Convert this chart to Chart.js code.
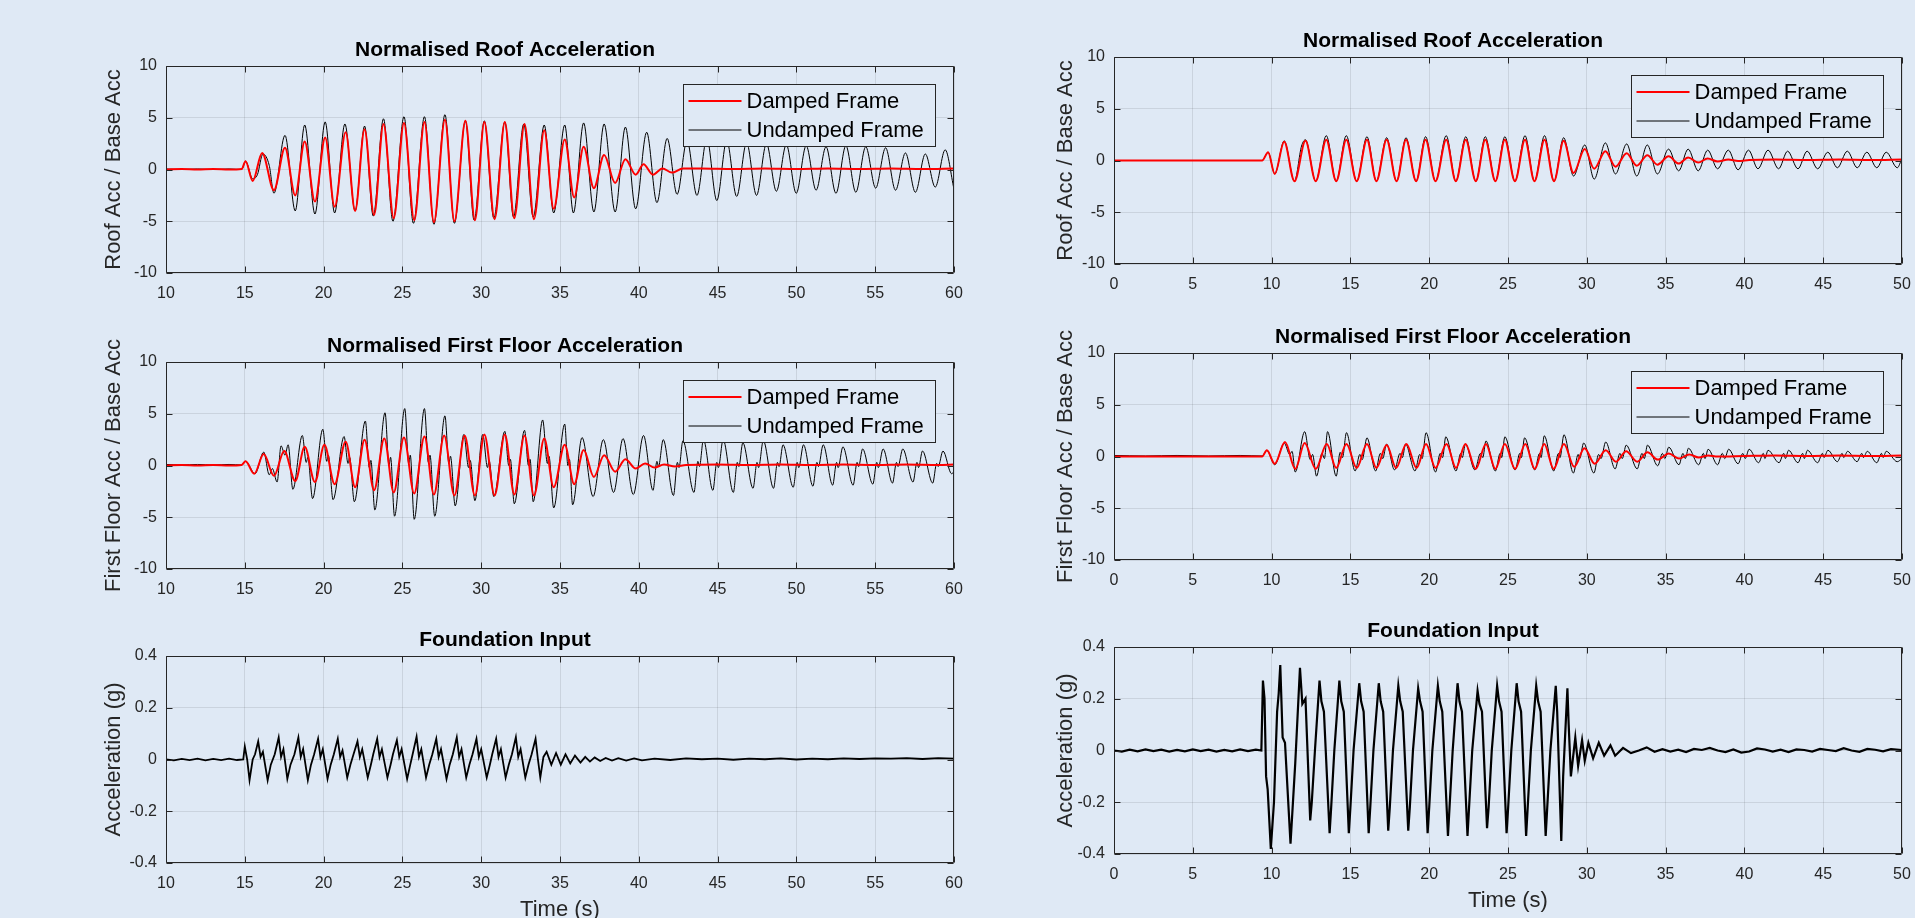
<!DOCTYPE html>
<html>
<head>
<meta charset="utf-8">
<title>Frame accelerations</title>
<script src="https://cdn.jsdelivr.net/npm/chart.js@4.4.1/dist/chart.umd.min.js"></script>
<style>
  html, body { margin: 0; padding: 0; background: #dfe9f5; overflow: hidden; width: 1915px; height: 918px; }
  canvas { position: absolute; }
</style>
</head>
<body>
<canvas id="roofA"></canvas>
<canvas id="floorA"></canvas>
<canvas id="footA"></canvas>
<canvas id="roofB"></canvas>
<canvas id="floorB"></canvas>
<canvas id="footB"></canvas>
<script>
// ---- tick labels ----
const ticksA = [10, 15, 20, 25, 30, 35, 40, 45, 50, 55, 60];
const ticksB = [0, 5, 10, 15, 20, 25, 30, 35, 40, 45, 50];
const accTicks = [-10, -5, 0, 5, 10];
const gTicks = [-0.4, -0.2, 0, 0.2, 0.4];

const roofDampedA = [[10,0],[11,0.05],[12,0],[13,0.05],[14,0],[14.8,0.05],[15.05,0.8],[15.5,-1.1],[16.1,1.6],[16.85,-2.0],[17.55,2.1],[18.2,-2.5],[18.8,2.7],[19.45,-3.1],[20.1,3.1],[20.7,-3.6],[21.4,3.6],[22.0,-4.0],[22.6,3.9],[23.2,-4.4],[23.8,4.4],[24.45,-4.7],[25.1,4.5],[25.75,-4.9],[26.4,4.6],[27.0,-5.1],[27.7,4.8],[28.3,-5.0],[29.0,4.7],[29.6,-4.9],[30.2,4.6],[30.85,-4.8],[31.5,4.6],[32.1,-4.7],[32.75,4.4],[33.35,-4.8],[34.0,3.8],[34.6,-3.8],[35.3,2.9],[35.9,-2.7],[36.5,2.2],[37.15,-1.8],[37.8,1.4],[38.5,-1.3],[39.15,1.0],[39.8,-0.5],[40.3,0.5],[40.9,-0.5],[41.5,0.1],[42.1,-0.3],[42.8,0.1],[44,0.1],[46,0.05],[48,0.1],[50,0.05],[52,0.1],[54,0.05],[56,0.1],[58,0.05],[60,0.1]];
const roofUndampedA = [[10,0.05],[11,0],[12,0.05],[13,0],[14,0.05],[14.8,0],[15.05,0.8],[15.5,-0.9],[15.8,-0.5],[16.15,1.5],[16.55,0.4],[16.85,-2.3],[17.55,3.3],[18.2,-4.0],[18.8,4.3],[19.45,-4.3],[20.1,4.6],[20.7,-4.2],[21.35,4.4],[22.0,-4.0],[22.6,4.2],[23.15,-4.5],[23.8,4.9],[24.4,-5.0],[25.1,5.1],[25.7,-5.2],[26.4,5.1],[27.0,-5.3],[27.7,5.3],[28.3,-5.2],[29.0,4.7],[29.55,-4.9],[30.2,4.7],[30.8,-4.7],[31.5,4.6],[32.05,-4.6],[32.7,4.4],[33.3,-4.6],[34.0,4.3],[34.6,-4.2],[35.3,4.3],[35.85,-4.2],[36.5,4.5],[37.15,-4.1],[37.8,4.4],[38.5,-4.1],[39.15,4.1],[39.8,-3.8],[40.5,3.6],[41.15,-3.2],[41.8,3.0],[42.43,-2.4],[43.06,2.8],[43.69,-2.5],[44.32,3.0],[44.95,-3.0],[45.58,2.8],[46.21,-2.6],[46.84,2.6],[47.47,-2.5],[48.1,2.5],[48.73,-2.1],[49.36,2.4],[49.99,-2.3],[50.62,2.3],[51.25,-2.0],[51.88,2.2],[52.51,-2.3],[53.14,2.3],[53.77,-2.2],[54.4,2.2],[55.03,-1.8],[55.66,2.1],[56.29,-2.0],[56.92,1.6],[57.55,-2.2],[58.18,1.5],[58.81,-1.7],[59.44,1.9],[60,-1.9]];

const floorDampedA = [[10,0],[11,0.05],[12,0],[13,0.05],[14,0],[14.8,0.05],[15.05,0.4],[15.6,-0.8],[16.2,1.1],[16.85,-1.0],[17.5,1.4],[18.2,-1.5],[18.8,1.8],[19.45,-1.6],[20.05,2.0],[20.7,-1.8],[21.4,2.3],[22.0,-2.1],[22.6,2.5],[23.2,-2.4],[23.85,2.6],[24.45,-2.6],[25.1,2.7],[25.75,-2.7],[26.4,2.8],[27.0,-2.8],[27.65,2.9],[28.3,-2.9],[28.95,2.9],[29.6,-2.9],[30.2,3.0],[30.85,-2.9],[31.5,3.0],[32.1,-2.8],[32.75,2.9],[33.35,-2.9],[34.0,2.6],[34.6,-2.1],[35.3,2.0],[35.9,-1.8],[36.5,1.5],[37.15,-1.1],[37.8,1.0],[38.5,-0.6],[39.15,0.6],[39.8,-0.3],[40.4,0.2],[41.0,-0.2],[41.6,0.1],[42.3,-0.1],[43,0.05],[45,0.1],[47,0.05],[49,0.1],[51,0.05],[53,0.1],[55,0.05],[57,0.1],[59,0.05],[60,0.1]];
const floorUndampedA = [[10,0.1],[11,0.05],[12,0.1],[13,0.05],[14,0.1],[14.8,0.05],[15.05,0.4],[15.65,-0.8],[16.2,1.3],[16.55,-0.9],[16.75,-0.3],[17.05,-1.6],[17.3,1.9],[17.55,1.0],[17.75,2.0],[18.05,-2.3],[18.65,2.9],[18.9,0.3],[19.0,0.8],[19.3,-3.2],[19.95,3.5],[20.2,0.4],[20.3,1.0],[20.6,-3.3],[21.3,2.8],[21.55,0.2],[21.65,0.8],[21.95,-3.5],[22.65,4.3],[22.9,-0.2],[23.0,0.5],[23.25,-4.3],[23.9,5.1],[24.15,0.0],[24.25,0.8],[24.5,-4.9],[25.15,5.5],[25.4,0.2],[25.5,1.0],[25.75,-5.2],[26.4,5.5],[26.65,0.3],[26.75,1.0],[27.05,-4.9],[27.7,4.8],[27.95,0.2],[28.05,0.9],[28.35,-3.9],[28.9,3.0],[29.2,-0.2],[29.3,0.5],[29.6,-3.4],[30.1,3.0],[30.4,-0.2],[30.5,0.5],[30.8,-3.0],[31.5,3.3],[31.75,0.0],[31.85,0.6],[32.1,-3.7],[32.75,3.4],[33.0,0.0],[33.1,0.6],[33.3,-3.5],[33.9,4.4],[34.2,0.2],[34.3,0.9],[34.6,-4.1],[35.3,4.0],[35.5,0.0],[35.6,0.6],[35.8,-3.8],[36.4,2.7],[37.1,-3.0],[37.75,2.5],[38.4,-2.6],[39.0,2.6],[39.65,-2.8],[40.3,2.9],[40.9,-2.4],[41.15,0.4],[41.25,-0.1],[41.55,2.5],[42.2,-2.9],[42.45,0.3],[42.55,-0.2],[42.8,2.4],[43.5,-2.6],[43.75,0.4],[43.85,-0.1],[44.1,2.5],[44.7,-2.4],[44.95,0.3],[45.05,-0.2],[45.35,2.5],[46.0,-2.6],[46.25,0.3],[46.35,-0.1],[46.6,2.2],[47.25,-2.2],[47.5,0.3],[47.6,-0.2],[47.9,2.4],[48.55,-2.2],[48.8,0.3],[48.9,-0.1],[49.15,2.0],[49.8,-2.1],[50.05,0.3],[50.15,-0.2],[50.45,2.0],[51.05,-2.0],[51.3,0.3],[51.4,-0.1],[51.7,2.0],[52.3,-1.9],[52.55,0.3],[52.65,-0.2],[52.95,1.8],[53.6,-1.9],[53.85,0.3],[53.95,-0.1],[54.2,1.6],[54.85,-1.8],[55.1,0.3],[55.2,-0.2],[55.5,1.6],[56.1,-1.7],[56.35,0.3],[56.45,-0.1],[56.75,1.6],[57.4,-1.6],[57.65,0.3],[57.75,-0.2],[58.0,1.4],[58.65,-1.7],[58.9,0.2],[59.0,-0.1],[59.3,1.4],[59.85,-0.8],[60,-0.6]];

const footInputA = [[10,0],[10.5,-0.003],[11,0.002],[11.5,-0.002],[12,0.003],[12.5,-0.003],[13,0.002],[13.5,-0.002],[14,0.003],[14.5,-0.002],[14.9,0.0],
  [15.0,0.05],[15.15,0.0],[15.3,-0.08],[15.5,0.0],[15.65,0.02],[15.85,0.07],[16.0,0.01],[16.15,0.03],[16.45,-0.08],[16.65,-0.02],[16.9,0.02],[17.15,0.085],[17.3,0.01],[17.45,0.04],[17.7,-0.075],[17.9,-0.02],[18.15,0.02],[18.4,0.085],[18.55,0.01],[18.7,0.04],[19.0,-0.08],[19.2,-0.02],[19.4,0.02],[19.65,0.08],[19.8,0.01],[19.95,0.04],[20.25,-0.075],[20.45,-0.02],[20.65,0.02],[20.9,0.08],[21.05,0.01],[21.2,0.035],[21.5,-0.07],[21.7,-0.02],[21.9,0.02],[22.15,0.07],[22.3,0.01],[22.45,0.04],[22.8,-0.07],[23.0,-0.02],[23.15,0.02],[23.4,0.08],[23.55,0.01],[23.7,0.04],[24.05,-0.07],[24.25,-0.02],[24.4,0.02],[24.65,0.075],[24.8,0.01],[24.95,0.04],[25.3,-0.075],[25.5,-0.02],[25.65,0.02],[25.9,0.088],[26.05,0.01],[26.2,0.04],[26.5,-0.07],[26.7,-0.02],[26.9,0.02],[27.15,0.08],[27.3,0.01],[27.45,0.04],[27.8,-0.075],[28.0,-0.02],[28.2,0.02],[28.45,0.085],[28.6,0.01],[28.75,0.04],[29.05,-0.07],[29.25,-0.02],[29.45,0.02],[29.7,0.08],[29.85,0.01],[30.0,0.04],[30.35,-0.07],[30.55,-0.02],[30.7,0.02],[30.95,0.08],[31.1,0.01],[31.25,0.04],[31.55,-0.07],[31.75,-0.02],[31.95,0.02],[32.2,0.086],[32.35,0.01],[32.5,0.04],[32.8,-0.07],[33.0,-0.02],[33.2,0.02],[33.45,0.08],[33.6,0.0],[33.75,-0.07],
  [33.95,0.01],[34.15,0.03],[34.45,-0.02],[34.75,0.025],[35.05,-0.02],[35.35,0.02],[35.65,-0.015],[35.95,0.015],[36.3,-0.012],[36.6,0.01],[36.9,-0.008],[37.2,0.008],[37.55,-0.006],[37.9,0.006],[38.3,-0.004],[38.7,0.005],[39.2,-0.004],[39.7,0.004],[40.2,-0.003],[41,0.003],[42,-0.002],[43,0.004],[44,0.001],[45,0.003],[46,-0.001],[47,0.003],[48,0.001],[49,0.004],[50,0.0],[51,0.003],[52,0.001],[53,0.004],[54,0.002],[55,0.004],[56,0.003],[57,0.005],[58,0.002],[59,0.005],[60,0.003]];

// ---- right column (test B) ----
const roofDampedB = [[0,0],[9.4,0],[9.78,0.8],[10.2,-1.3],[10.8,1.8],[11.45,-2.0],[12.15,1.9],[12.8,-2.0],[13.47,2.0],[14.1,-2.0],[14.74,2.0],[15.4,-2.0],[16.05,2.0],[16.65,-2.0],[17.3,2.0],[17.93,-2.0],[18.53,2.0],[19.17,-2.0],[19.77,2.0],[20.4,-2.0],[21.08,2.0],[21.69,-2.0],[22.32,2.0],[22.96,-2.0],[23.56,2.0],[24.2,-2.0],[24.8,2.0],[25.44,-2.0],[26.08,2.0],[26.68,-2.0],[27.32,2.0],[27.92,-2.0],[28.53,1.9],[29.16,-1.2],[29.87,1.1],[30.47,-0.8],[31.18,0.9],[31.82,-0.6],[32.53,0.7],[33.17,-0.5],[33.84,0.5],[34.48,-0.4],[35.19,0.4],[35.83,-0.3],[36.43,0.3],[37.07,-0.2],[37.67,0.2],[38.3,-0.1],[38.98,0.1],[39.6,-0.05],[40.3,0.05],[42,0.1],[44,0.05],[46,0.1],[48,0.05],[50,0.1]];
const roofUndampedB = [[0,0],[9.4,0],[9.78,0.8],[10.2,-1.3],[10.8,1.9],[11.45,-2.0],[11.9,1.4],[12.15,2.0],[12.8,-2.0],[13.47,2.4],[14.1,-2.0],[14.74,2.4],[15.4,-2.0],[16.05,2.3],[16.65,-2.0],[17.3,2.2],[17.93,-2.0],[18.53,2.2],[19.17,-2.0],[19.77,2.3],[20.4,-2.0],[21.08,2.4],[21.69,-2.0],[22.32,2.3],[22.96,-2.0],[23.56,2.3],[24.2,-2.0],[24.8,2.3],[25.44,-2.0],[26.08,2.4],[26.68,-2.0],[27.32,2.4],[27.92,-2.0],[28.53,2.2],[29.16,-1.5],[29.87,1.5],[30.47,-1.8],[31.18,1.7],[31.82,-1.3],[32.53,1.6],[33.17,-1.5],[33.84,1.5],[34.48,-1.3],[35.19,1.1],[35.83,-1.0],[36.43,1.1],[37.07,-1.0],[37.67,1.0],[38.3,-0.8],[38.98,1.0],[39.6,-0.9],[40.26,1.0],[40.86,-0.8],[41.5,1.0],[42.17,-0.8],[42.74,0.9],[43.4,-0.8],[43.98,0.9],[44.65,-0.8],[45.29,0.8],[45.9,-0.7],[46.53,0.9],[47.16,-0.7],[47.77,0.8],[48.4,-0.7],[49.0,0.8],[49.7,-0.7],[50,0.2]];

const floorDampedB = [[0,0],[9.4,0],[9.7,0.6],[10.2,-0.7],[10.85,1.4],[11.5,-1.2],[12.1,1.3],[12.8,-1.2],[13.5,1.2],[14.1,-1.1],[14.75,1.2],[15.4,-1.1],[16.05,1.2],[16.65,-1.1],[17.3,1.1],[17.9,-1.1],[18.55,1.2],[19.2,-1.1],[19.8,1.2],[20.4,-1.1],[21.1,1.2],[21.7,-1.1],[22.3,1.2],[22.95,-1.2],[23.6,1.2],[24.2,-1.2],[24.8,1.2],[25.45,-1.2],[26.1,1.2],[26.7,-1.2],[27.3,1.2],[27.9,-1.2],[28.55,1.2],[29.2,-1.0],[29.85,0.8],[30.5,-0.7],[31.2,0.6],[31.85,-0.5],[32.5,0.5],[33.2,-0.5],[33.85,0.4],[34.5,-0.3],[35.2,0.3],[35.85,-0.2],[36.5,0.2],[37.1,-0.1],[37.7,0.1],[38.3,0],[40,0.05],[42,0.1],[44,0.05],[46,0.1],[48,0.05],[50,0.1]];
const floorUndampedB = [[0,0.1],[2,0.05],[4,0.1],[6,0.05],[8,0.1],[9.4,0.05],[9.7,0.6],[10.2,-0.8],[10.8,1.3],[11.15,0.2],[11.3,0.5],[11.5,-1.5],[12.1,2.4],[12.45,-0.3],[12.6,0.2],[12.85,-1.9],[13.2,0.3],[13.35,-0.2],[13.55,2.4],[14.1,-1.9],[14.35,0.4],[14.5,-0.1],[14.75,2.3],[15.3,-1.4],[15.6,0.2],[15.75,-0.3],[16.05,1.8],[16.6,-1.4],[16.9,0.3],[17.05,-0.2],[17.3,1.2],[17.8,-1.3],[18.15,0.3],[18.3,-0.1],[18.5,1.2],[19.1,-1.4],[19.4,0.2],[19.55,-0.2],[19.8,2.3],[20.4,-1.5],[20.7,0.3],[20.85,-0.1],[21.05,1.9],[21.7,-1.4],[22.0,0.3],[22.1,-0.1],[22.3,1.2],[22.9,-1.3],[23.25,0.3],[23.4,-0.1],[23.6,1.5],[24.2,-1.4],[24.5,0.3],[24.6,-0.1],[24.8,1.9],[25.45,-1.3],[25.75,0.3],[25.85,-0.1],[26.05,1.8],[26.7,-1.3],[27.0,0.3],[27.1,-0.1],[27.3,2.0],[27.9,-1.4],[28.2,0.3],[28.3,-0.1],[28.55,2.1],[29.15,-1.6],[29.45,0.2],[29.55,-0.2],[29.8,1.3],[30.45,-1.6],[30.75,0.2],[30.9,-0.2],[31.2,1.4],[31.8,-1.2],[32.1,0.3],[32.25,-0.2],[32.5,1.1],[33.2,-1.2],[33.5,0.3],[33.65,-0.2],[33.85,1.1],[34.5,-0.9],[34.8,0.3],[34.95,-0.2],[35.2,0.9],[35.85,-0.8],[36.1,0.3],[36.25,-0.2],[36.45,0.8],[37.1,-0.8],[37.4,0.3],[37.5,-0.2],[37.7,0.7],[38.3,-0.8],[38.6,0.3],[38.75,-0.2],[39.0,0.7],[39.6,-0.7],[39.9,0.3],[40.05,-0.2],[40.3,0.7],[40.9,-0.6],[41.2,0.3],[41.3,-0.2],[41.5,0.6],[42.2,-0.6],[42.5,0.3],[42.6,-0.2],[42.8,0.6],[43.4,-0.6],[43.7,0.3],[43.8,-0.2],[44.0,0.6],[44.65,-0.6],[44.95,0.3],[45.05,-0.1],[45.3,0.6],[45.9,-0.5],[46.2,0.3],[46.3,-0.1],[46.55,0.5],[47.15,-0.5],[47.45,0.3],[47.55,-0.1],[47.8,0.5],[48.4,-0.6],[48.7,0.3],[48.8,-0.1],[49.0,0.5],[49.7,-0.5],[50,-0.2]];

const footInputB = [[0,0],[0.5,-0.004],[1,0.003],[1.5,-0.003],[2,0.004],[2.5,-0.002],[3,0.003],[3.5,-0.004],[4,0.002],[4.5,-0.003],[5,0.004],[5.5,-0.002],[6,0.003],[6.5,-0.004],[7,0.002],[7.5,-0.003],[8,0.004],[8.5,-0.002],[9,0.003],[9.35,0.0],
  [9.45,0.27],[9.55,0.2],[9.65,-0.1],[9.75,-0.15],[9.95,-0.38],[10.15,-0.2],[10.35,0.15],[10.45,0.22],[10.55,0.33],[10.7,0.05],[10.85,0.03],[11.2,-0.36],[11.5,-0.05],[11.8,0.32],[11.95,0.18],[12.15,0.2],[12.45,-0.27],[12.55,-0.2],[12.75,0.0],
  [13.04,0.27],[13.16,0.19],[13.32,0.15],[13.68,-0.32],[13.78,-0.22],[13.98,0.0],
  [14.3,0.27],[14.42,0.19],[14.58,0.15],[14.9,-0.32],[15.0,-0.22],[15.2,0.0],
  [15.56,0.26],[15.68,0.19],[15.84,0.15],[16.16,-0.32],[16.26,-0.22],[16.46,0.0],
  [16.8,0.26],[16.92,0.19],[17.08,0.15],[17.4,-0.31],[17.5,-0.22],[17.7,0.0],
  [18.04,0.25],[18.16,0.19],[18.32,0.15],[18.67,-0.31],[18.77,-0.22],[18.97,0.0],
  [19.3,0.24],[19.42,0.19],[19.58,0.15],[19.9,-0.32],[20.0,-0.22],[20.2,0.0],
  [20.55,0.25],[20.67,0.19],[20.83,0.15],[21.19,-0.33],[21.29,-0.22],[21.49,0.0],
  [21.8,0.26],[21.92,0.19],[22.08,0.15],[22.43,-0.33],[22.53,-0.22],[22.73,0.0],
  [23.07,0.23],[23.19,0.18],[23.35,0.15],[23.67,-0.30],[23.77,-0.22],[23.97,0.0],
  [24.31,0.25],[24.43,0.19],[24.59,0.15],[24.91,-0.32],[25.01,-0.22],[25.21,0.0],
  [25.55,0.26],[25.67,0.19],[25.83,0.15],[26.15,-0.33],[26.25,-0.22],[26.45,0.0],
  [26.79,0.25],[26.91,0.19],[27.07,0.15],[27.39,-0.33],[27.49,-0.22],[27.69,0.0],
  [28.03,0.25],[28.12,0.15],[28.38,-0.35],[28.5,-0.1],[28.77,0.24],[28.85,0.1],
  [28.99,-0.1],[29.27,0.05],[29.45,-0.06],[29.7,0.04],[29.87,-0.04],[30.1,0.03],[30.4,-0.03],[30.76,0.03],[31.1,-0.02],[31.5,0.02],[31.8,-0.02],
  [32.3,0.01],[32.8,-0.01],[33.3,0.0],[33.8,0.012],[34.3,-0.005],[34.8,0.005],[35.3,-0.004],[35.8,0.003],[36.3,-0.006],[36.8,0.006],[37.3,0.002],[37.8,0.01],[38.3,0.0],[38.8,-0.006],[39.3,0.004],[39.8,-0.008],[40.3,-0.004],[40.8,0.008],[41.3,0.004],[41.8,-0.004],[42.3,0.003],[42.8,-0.006],[43.3,0.004],[43.8,0.002],[44.3,-0.004],[44.8,0.006],[45.3,0.002],[45.8,-0.002],[46.3,0.009],[46.8,0.0],[47.3,-0.005],[47.8,0.006],[48.3,0.003],[48.8,-0.003],[49.3,0.005],[50,0.002]];

// ---- look ----
const BG = '#dfe9f5';
const AXIS = '#262626';
const FONT = "'Liberation Sans', Arial, Helvetica, sans-serif";
Chart.defaults.font.family = FONT;
Chart.defaults.color = AXIS;

const PLOT_W = 788, PLOT_H = 207, Y_W = 110, TITLE_H = 40;

// Matlab style box: frame on all four sides, ticks pointing inward
const boxPlugin = {
  id: 'matlabBox',
  afterDatasetsDraw(chart) {
    const {ctx, chartArea: a, scales: {x, y}} = chart;
    const L = Math.round(a.left) + 0.5, R = Math.round(a.right) - 0.5;
    const T = Math.round(a.top) + 0.5, B = Math.round(a.bottom) - 0.5;
    ctx.save();
    ctx.strokeStyle = AXIS;
    ctx.lineWidth = 1;
    ctx.beginPath();
    ctx.rect(L, T, R - L, B - T);
    x.ticks.forEach(t => {
      const px = Math.round(x.getPixelForValue(t.value)) + 0.5;
      ctx.moveTo(px, B); ctx.lineTo(px, B - 6);
      ctx.moveTo(px, T); ctx.lineTo(px, T + 6);
    });
    y.ticks.forEach(t => {
      const py = Math.round(y.getPixelForValue(t.value)) + 0.5;
      ctx.moveTo(L, py); ctx.lineTo(L + 6, py);
      ctx.moveTo(R, py); ctx.lineTo(R - 6, py);
    });
    ctx.stroke();
    ctx.restore();
  }
};

// legend box inside the upper right corner of the axes
const boxLegend = {
  id: 'boxLegend',
  afterDraw(chart, args, opts) {
    if (!opts.show) return;
    const {ctx, chartArea: a} = chart;
    const w = 252, h = 62;
    const bx = Math.round(a.right - 19 - w) + 0.5, by = Math.round(a.top + 18) + 0.5;
    ctx.save();
    ctx.fillStyle = BG;
    ctx.fillRect(bx, by, w, h);
    ctx.strokeStyle = AXIS;
    ctx.lineWidth = 1;
    ctx.strokeRect(bx, by, w, h);
    ctx.font = '22px ' + FONT;
    ctx.textBaseline = 'middle';
    ctx.fillStyle = '#000';
    chart.data.datasets.forEach((ds, i) => {
      const cy = Math.round(by + 16 + i * 29);
      ctx.strokeStyle = ds.borderColor;
      ctx.lineWidth = ds.borderWidth;
      ctx.beginPath();
      ctx.moveTo(bx + 5, cy); ctx.lineTo(bx + 58, cy);
      ctx.stroke();
      ctx.fillText(ds.label, bx + 63, cy + 1);
    });
    ctx.restore();
  }
};

function pts(arr) {
  return arr.map(p => ({x: p[0], y: p[1]}));
}

function panel(id, o) {
  const cv = document.getElementById(id);
  const xh = o.xLabel ? 60 : 36;
  cv.width = Y_W + PLOT_W + 20;
  cv.height = TITLE_H + PLOT_H + xh;
  cv.style.left = (o.left - Y_W) + 'px';
  cv.style.top = (o.top - TITLE_H) + 'px';

  new Chart(cv, {
    type: 'line',
    data: {datasets: o.datasets},
    options: {
      responsive: false,
      animation: false,
      events: [],
      layout: {padding: {left: 0, right: 20, top: 0, bottom: 0}},
      elements: {point: {radius: 0}},
      plugins: {
        legend: {display: false},
        tooltip: {enabled: false},
        title: {
          display: true, text: o.title, color: '#000',
          font: {size: 21, weight: 'bold'},
          padding: {top: 11.4, bottom: 3.4}
        },
        boxLegend: {show: !!o.legend}
      },
      scales: {
        x: {
          type: 'linear', min: o.xTicks[0], max: o.xTicks[o.xTicks.length - 1],
          afterBuildTicks: s => { s.ticks = o.xTicks.map(v => ({value: v})); },
          afterFit: s => { s.height = xh; },
          grid: {color: 'rgba(38,38,38,0.11)', drawTicks: false},
          border: {display: false},
          ticks: {padding: 11, maxRotation: 0, font: {size: 16}, color: AXIS},
          title: {display: !!o.xLabel, text: o.xLabel || '', font: {size: 22}, color: AXIS, padding: {top: 0, bottom: 0}}
        },
        y: {
          type: 'linear', min: o.yTicks[0], max: o.yTicks[o.yTicks.length - 1],
          afterBuildTicks: s => { s.ticks = o.yTicks.map(v => ({value: v})); },
          afterFit: s => { s.width = Y_W; },
          grid: {color: 'rgba(38,38,38,0.11)', drawTicks: false},
          border: {display: false},
          ticks: {padding: 9, font: {size: 16}, color: AXIS, callback: v => String(v)},
          title: {display: true, text: o.yLabel, font: {size: 22}, color: AXIS, padding: {top: o.yPad, bottom: 0}}
        }
      }
    },
    plugins: [boxPlugin, boxLegend]
  });
}

function frameSets(damped, undamped) {
  return [
    {label: 'Damped Frame', data: pts(damped), borderColor: '#ff0000', borderWidth: 2, cubicInterpolationMode: 'monotone'},
    {label: 'Undamped Frame', data: pts(undamped), borderColor: '#000000', borderWidth: 1, cubicInterpolationMode: 'monotone'}
  ];
}

function inputSet(data, width) {
  return [{label: 'Foundation Input', data: pts(data), borderColor: '#000000', borderWidth: width, tension: 0}];
}

panel('roofA', {left: 166, top: 66, title: 'Normalised Roof Acceleration', yLabel: 'Roof Acc / Base Acc', yPad: 44.8,
  xTicks: ticksA, yTicks: accTicks, legend: true, datasets: frameSets(roofDampedA, roofUndampedA)});
panel('floorA', {left: 166, top: 362, title: 'Normalised First Floor Acceleration', yLabel: 'First Floor Acc / Base Acc', yPad: 44.8,
  xTicks: ticksA, yTicks: accTicks, legend: true, datasets: frameSets(floorDampedA, floorUndampedA)});
panel('footA', {left: 166, top: 656, title: 'Foundation Input', yLabel: 'Acceleration (g)', yPad: 44.8, xLabel: 'Time (s)',
  xTicks: ticksA, yTicks: gTicks, datasets: inputSet(footInputA, 1.8)});

panel('roofB', {left: 1114, top: 57, title: 'Normalised Roof Acceleration', yLabel: 'Roof Acc / Base Acc', yPad: 48.8,
  xTicks: ticksB, yTicks: accTicks, legend: true, datasets: frameSets(roofDampedB, roofUndampedB)});
panel('floorB', {left: 1114, top: 353, title: 'Normalised First Floor Acceleration', yLabel: 'First Floor Acc / Base Acc', yPad: 48.8,
  xTicks: ticksB, yTicks: accTicks, legend: true, datasets: frameSets(floorDampedB, floorUndampedB)});
panel('footB', {left: 1114, top: 647, title: 'Foundation Input', yLabel: 'Acceleration (g)', yPad: 48.8, xLabel: 'Time (s)',
  xTicks: ticksB, yTicks: gTicks, datasets: inputSet(footInputB, 2.2)});
</script>
